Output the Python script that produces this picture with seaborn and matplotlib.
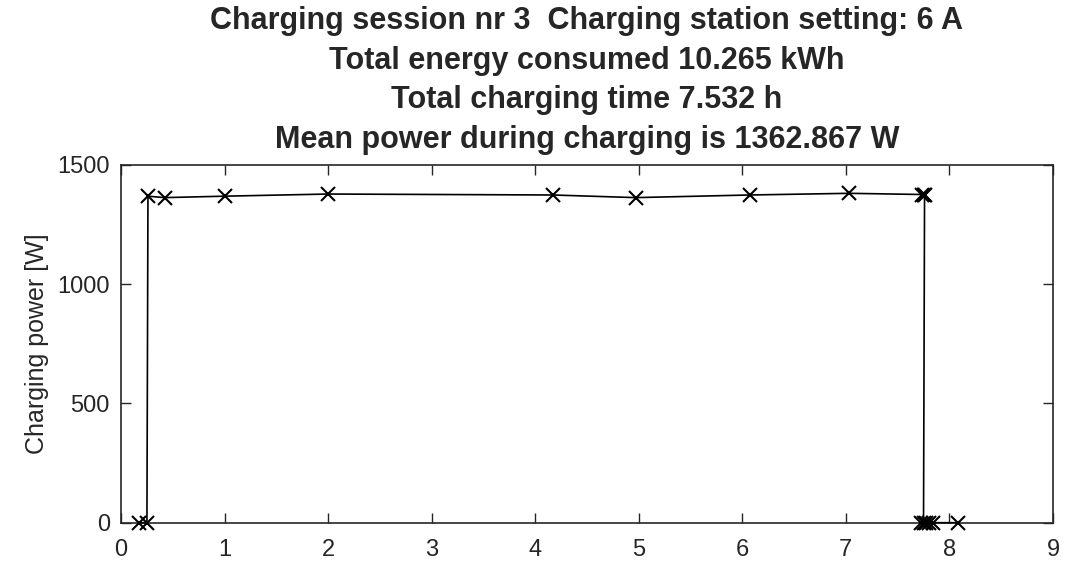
import matplotlib
matplotlib.use("Agg")
import matplotlib.pyplot as plt
import seaborn as sns
import pandas as pd

# Data
time_h = [0.17, 0.25, 0.26, 0.42, 1.00, 2.00, 4.17, 4.97, 6.07, 7.03, 7.74, 7.75, 7.76,
          7.75, 7.73, 7.77, 7.80, 7.84, 8.08]
power_w = [0, 0, 1368, 1362, 1368, 1377, 1373, 1362, 1373, 1380, 1375, 1372, 1374,
           0, 0, 0, 0, 0, 0]

title_lines = [
    "Charging session nr 3  Charging station setting: 6 A",
    "Total energy consumed 10.265 kWh",
    "Total charging time 7.532 h",
    "Mean power during charging is 1362.867 W",
]
y_label = "Charging power [W]"
x_ticks = list(range(0, 10))
y_ticks = [0, 500, 1000, 1500]

df = pd.DataFrame({"time": time_h, "power": power_w, "order": range(len(time_h))})

sns.set_style("white")
plt.rcParams["font.family"] = ["Liberation Sans", "DejaVu Sans"]

fig = plt.figure(figsize=(10.74, 5.63), dpi=100)
ax = fig.add_axes([0.1127, 0.0716, 0.8677, 0.6359])

sns.lineplot(data=df, x="time", y="power", sort=False, estimator=None,
             color="black", linewidth=1.2, marker="x", markersize=10,
             markeredgewidth=1.5, markeredgecolor="black", ax=ax)
for ln in ax.lines:
    ln.set_clip_on(False)
    ln.set_zorder(5)

ax.set_xlim(0, 9)
ax.set_ylim(0, 1500)
ax.set_xticks(x_ticks)
ax.set_yticks(y_ticks)
ax.set_xlabel("")
ax.set_ylabel(y_label, fontsize=18, color="#262626", labelpad=6)
ax.tick_params(axis="both", direction="in", length=7, width=1.0, colors="#262626",
               labelsize=17, top=True, right=True, bottom=True, left=True)
ax.tick_params(axis="x", pad=12)
ax.tick_params(axis="y", pad=8)
for s in ax.spines.values():
    s.set_visible(True)
    s.set_color("#262626")
    s.set_linewidth(1.2)

ax.set_title("\n".join(title_lines), fontsize=22, fontweight="bold",
             linespacing=1.42, pad=12)

fig.savefig("out.png", dpi=100)
